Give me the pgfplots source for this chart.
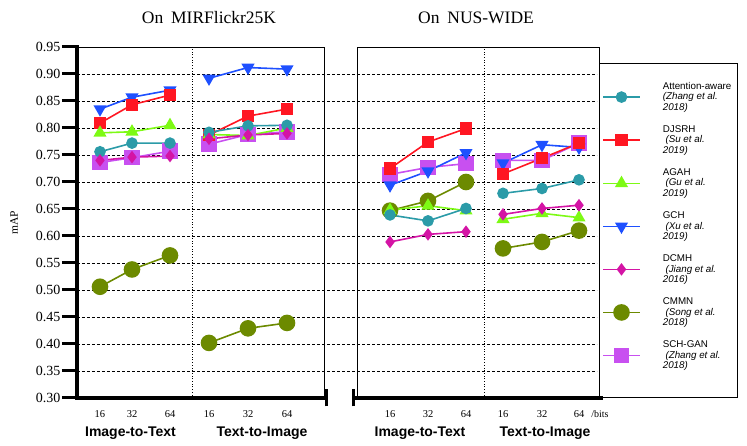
\documentclass[border=0pt]{standalone}
\usepackage{fontspec}
\setmainfont{Liberation Serif}
\newfontfamily\arial{Liberation Sans}
\usepackage{pgfplots}
\usepackage{pgfplotstable}
\pgfplotsset{compat=1.18}
\usetikzlibrary{plotmarks}

\definecolor{cAtt}{RGB}{43,155,168}
\definecolor{cDJ}{RGB}{255,22,34}
\definecolor{cAG}{RGB}{125,250,20}
\definecolor{cGC}{RGB}{30,80,255}
\definecolor{cDC}{RGB}{212,20,165}
\definecolor{cCM}{RGB}{108,138,0}
\definecolor{cSC}{RGB}{200,80,240}

% x positions: 16/32/64 of each group; "nan" rows break the line between groups
\pgfplotstableread{
x y
100 0.756
132 0.772
170 0.772
190 nan
209 0.792
248 0.804
287 0.805
300 nan
390 0.639
428 0.628
466 0.651
480 nan
503 0.679
542 0.688
579 0.704
}\attdata
\pgfplotstableread{
x y
100 0.809
132 0.843
170 0.861
190 nan
209 0.787
248 0.822
287 0.835
300 nan
390 0.725
428 0.774
466 0.799
480 nan
503 0.715
542 0.744
579 0.772
}\djdata
\pgfplotstableread{
x y
100 0.791
132 0.793
170 0.805
190 nan
209 0.788
248 0.786
287 0.800
300 nan
390 0.648
428 0.656
466 0.647
480 nan
503 0.631
542 0.642
579 0.634
}\agdata
\pgfplotstableread{
x y
100 0.835
132 0.857
170 0.870
190 nan
209 0.892
248 0.912
287 0.909
300 nan
390 0.694
428 0.720
466 0.754
480 nan
503 0.735
542 0.769
579 0.764
}\gcdata
\pgfplotstableread{
x y
100 0.740
132 0.746
170 0.748
190 nan
209 0.780
248 0.787
287 0.790
300 nan
390 0.589
428 0.603
466 0.608
480 nan
503 0.640
542 0.651
579 0.657
}\dcdata
\pgfplotstableread{
x y
100 0.506
132 0.538
170 0.564
190 nan
209 0.402
248 0.429
287 0.439
300 nan
390 0.647
428 0.665
466 0.700
480 nan
503 0.577
542 0.589
579 0.610
}\cmdata
\pgfplotstableread{
x y
100 0.736
132 0.745
170 0.757
190 nan
209 0.770
248 0.788
287 0.793
300 nan
390 0.714
428 0.727
466 0.734
480 nan
503 0.740
542 0.740
579 0.772
}\scdata

\pgfplotsset{
  sAtt/.style={color=cAtt, line width=1.6pt, mark=*, mark size=5pt, mark options={solid, fill=cAtt}},
  sDJ/.style={color=cDJ, line width=1.6pt, mark=square*, mark size=5.3pt, mark options={solid, fill=cDJ}},
  sAG/.style={color=cAG, line width=1.6pt, mark=triangle*, mark size=6pt, mark options={solid, fill=cAG}},
  sGC/.style={color=cGC, line width=1.6pt, mark=triangle*, mark size=6pt, mark options={solid, fill=cGC, rotate=180}},
  sDC/.style={color=cDC, line width=1.6pt, mark=diamond*, mark size=5pt, mark options={solid, fill=cDC}},
  sCM/.style={color=cCM, line width=1.6pt, mark=*, mark size=7.5pt, mark options={solid, fill=cCM}},
  sSC/.style={color=cSC, line width=1.6pt, mark=square*, mark size=7pt, mark options={solid, fill=cSC, rounded corners=2pt}},
}

\begin{document}
\begin{tikzpicture}
\useasboundingbox (-77pt,-48pt) rectangle (670pt,398pt);
% grid
\foreach \yy in {27,54,81,108,135,162,189,216,243,270,297,324}
  \draw[line width=0.7pt, dash pattern=on 3pt off 2pt] (0pt,\yy pt) -- (520pt,\yy pt);
% dividers
\draw[line width=0.7pt, dotted] (115pt,0pt) -- (115pt,351pt);
\draw[line width=0.7pt, dotted] (407pt,0pt) -- (407pt,351pt);
% boxes
\draw[line width=0.9pt] (0pt,351pt) -- (247pt,351pt) -- (247pt,0pt);
\draw[line width=0.9pt] (280pt,0pt) -- (280pt,351pt) -- (522pt,351pt) -- (522pt,335pt);
% legend box
\draw[line width=0.9pt] (522pt,1pt) rectangle (660pt,335pt);
% thick axes
\draw[line width=3.5pt] (0pt,0pt) -- (0pt,352.5pt);
\draw[line width=3.5pt] (-1.75pt,0pt) -- (249pt,0pt);
\draw[line width=3pt] (249pt,-8.5pt) -- (249pt,8.5pt);
\draw[line width=3pt] (276pt,-8.5pt) -- (276pt,8.5pt);
\draw[line width=3.5pt] (276pt,0pt) -- (526pt,0pt);

\begin{axis}[
  at={(0pt,0pt)}, anchor=south west,
  scale only axis, width=522pt, height=351pt,
  xmin=77, xmax=599, ymin=0.30, ymax=0.95,
  clip=false,
  axis line style={draw=none},
  ytick={0.30,0.35,0.40,0.45,0.50,0.55,0.60,0.65,0.70,0.75,0.80,0.85,0.90,0.95},
  ytick pos=left, xtick pos=bottom,
  tick align=outside,
  major tick length=15pt,
  ytick style={line width=3pt, black},
  xtick style={draw=none},
  xtick={100,132,170,209,248,287,390,428,466,503,542,579},
  xticklabels={16,32,64,16,32,64,16,32,64,16,32,64},
  /pgf/number format/assume math mode=true,
  yticklabel style={/pgf/number format/fixed, /pgf/number format/fixed zerofill, /pgf/number format/precision=2, font=\fontsize{14}{14}\selectfont, inner sep=1.5pt},
  xticklabel style={font=\fontsize{10.5}{11}\selectfont, anchor=center, yshift=-1pt},
  unbounded coords=jump,
  legend cell align=left,
  legend style={at={(axis cs:602,0.8889)}, anchor=north west, draw=none, fill=none,
    inner sep=0pt, row sep=9.5pt, font=\arial\fontsize{9.8}{10.6}\selectfont,
    cells={align=left, inner sep=1pt},
    /tikz/every odd column/.append style={column sep=20pt}},
  legend image code/.code={\draw[mark repeat=2,mark phase=2] plot coordinates {(0pt,0pt) (18.5pt,0pt) (37pt,0pt)};},
]
\addlegendimage{sAtt}
\addlegendentry{Attention-aware\\\textit{(Zhang et al.}\\\textit{2018)}}
\addlegendimage{sDJ}
\addlegendentry{DJSRH\\\ \textit{(Su et al.}\\\textit{2019)}}
\addlegendimage{sAG}
\addlegendentry{AGAH\\\ \textit{(Gu et al.}\\\textit{2019)}}
\addlegendimage{sGC}
\addlegendentry{GCH\\\ \textit{(Xu et al.}\\\textit{2019)}}
\addlegendimage{sDC}
\addlegendentry{DCMH\\\ \textit{(Jiang et al.}\\\textit{2016)}}
\addlegendimage{sCM}
\addlegendentry{CMMN\\\ \textit{(Song et al.}\\\textit{2018)}}
\addlegendimage{sSC}
\addlegendentry{SCH-GAN\\\ \textit{(Zhang et al.}\\\textit{2018)}}

\addplot[sSC, forget plot] table {\scdata};
\addplot[sCM, forget plot] table {\cmdata};
\addplot[sGC, forget plot] table {\gcdata};
\addplot[sDJ, forget plot] table {\djdata};
\addplot[sAG, forget plot] table {\agdata};
\addplot[sAtt, forget plot] table {\attdata};
\addplot[sDC, forget plot] table {\dcdata};
\end{axis}

% titles and labels
\node[font=\fontsize{17.5}{18}\selectfont] at (132pt,380pt) {On\hspace{0.45em}MIRFlickr25K};
\node[font=\fontsize{17.5}{18}\selectfont] at (399pt,380pt) {On\hspace{0.45em}NUS-WIDE};
\node[rotate=90, font=\fontsize{11.5}{12}\selectfont] at (-63pt,175pt) {mAP};
\node[font=\arial\bfseries\fontsize{14}{15}\selectfont] at (53.5pt,-35pt) {Image-to-Text};
\node[font=\arial\bfseries\fontsize{14}{15}\selectfont] at (185pt,-35pt) {Text-to-Image};
\node[font=\arial\bfseries\fontsize{14}{15}\selectfont] at (343pt,-35pt) {Image-to-Text};
\node[font=\arial\bfseries\fontsize{14}{15}\selectfont] at (468pt,-35pt) {Text-to-Image};
\node[font=\fontsize{10}{11}\selectfont] at (523pt,-16pt) {/bits};
\end{tikzpicture}
\end{document}
